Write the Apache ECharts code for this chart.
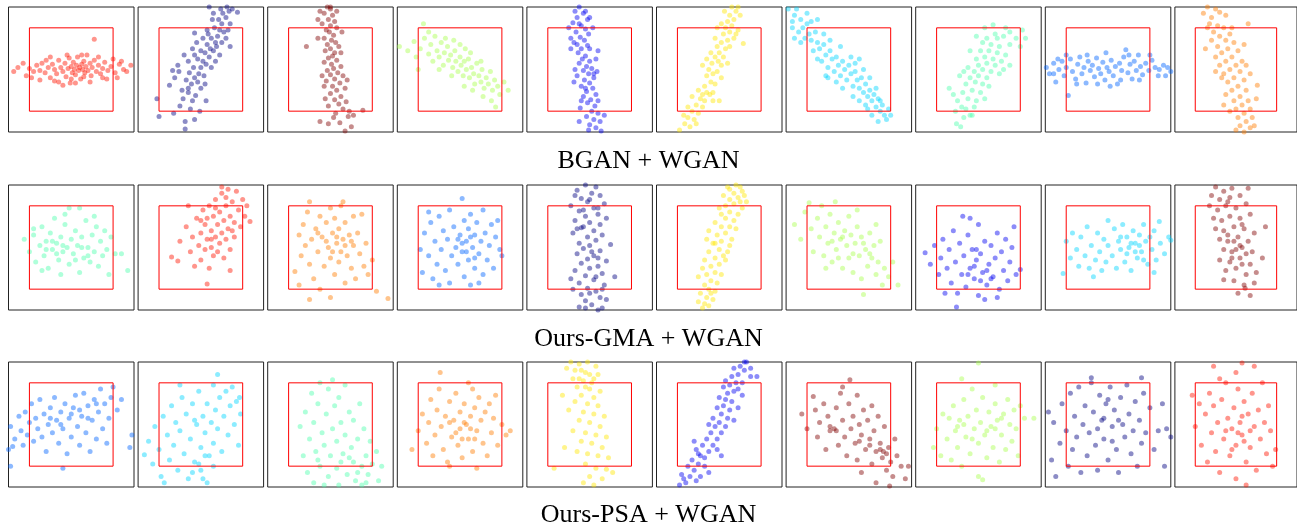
<!DOCTYPE html>
<html>
<head>
<meta charset="utf-8">
<script src="https://cdn.jsdelivr.net/npm/echarts@6/dist/echarts.min.js"></script>
<style>
  html, body { margin: 0; padding: 0; background: #fff; }
  #main { width: 1297px; height: 523px; }
</style>
</head>
<body>
<div id="main"></div>
<script>
// red box is [-40,40], panel frame is [-60,60]
const rowTitles = ['BGAN + WGAN', 'Ours-GMA + WGAN', 'Ours-PSA + WGAN'];
const jet = ['#000080', '#0000f1', '#0063ff', '#00d4ff', '#4dffad', '#a9ff4d', '#ffe600', '#ff7d00', '#ff1400', '#800000'];
const rowColors = [
  [8, 0, 9, 5, 1, 6, 3, 4, 2, 7],
  [4, 8, 7, 2, 0, 6, 5, 1, 3, 9],
  [2, 3, 4, 7, 6, 1, 9, 5, 0, 8]
];
const box = [[-40, -40], [40, -40], [40, 40], [-40, 40], [-40, -40]];

const bganRow = [
  [[-51,2],[-43,-6],[-40,1],[-36,-2],[-33,4],[-30,-1],[-28,6],[-25,-3],[-22,2],[-20,-8],[-18,5],[-16,0],[-14,-4],[-12,9],[-10,2],[-8,-2],[-6,6],[-5,-7],[-3,1],[-2,11],[0,3],[1,-3],[2,7],[3,0],[4,-5],[5,4],[6,12],[7,-1],[8,2],[9,-9],[10,5],[11,0],[12,8],[13,-3],[14,3],[15,14],[16,-1],[18,6],[19,-6],[20,2],[22,9],[24,-2],[26,4],[28,-4],[30,1],[32,7],[35,-1],[38,3],[42,-3],[46,5],[50,0],[53,-2],[57,4],[22,29],[-8,-15],[-1,-13],
   [-30,-10],[-20,12],[-12,-12],[-4,14],[4,-13],[10,14],[18,-12],[26,12],[34,-9],[40,10],[-46,6],[-24,9],[44,-8],[0,-9],[12,-7],[-16,-11],[30,-8],[-38,-8],[48,8],[-55,-2]],
  [[-42,-28],[-40,-45],[-15,-57],[-15,-50],[-20,-35],[-17,-28],[-10,-38],[-8,-30],[-5,-25],[-18,-20],[-12,-18],[-14,-10],[-9,-14],[-6,-8],[-11,-3],[-3,-12],[-2,-4],[-7,2],[0,2],[3,-6],[2,8],[-3,10],[5,5],[8,12],[4,16],[0,18],[9,20],[6,24],[12,18],[14,26],[10,30],[16,32],[7,34],[18,38],[13,40],[20,44],[22,36],[17,48],[24,50],[21,54],[27,56],[25,60],[30,58],[19,58],[32,62],[11,48],[15,22],[-4,26],[-21,-2],[-1,-40],[5,-30],[28,44],[2,30],[6,38],[-8,20],[-27,-1],[-6,35],[28,22],
   [-30,-15],[-25,-8],[-22,4],[-12,8],[-16,14],[-6,14],[10,2],[14,8],[18,14],[20,26],[24,30],[26,38],[12,54],[8,60],[35,55],[-26,-42],[-6,-48],[-12,-22],[0,-18],[4,-14]],
  [[-3,60],[0,58],[-6,54],[2,52],[-2,48],[4,46],[-8,44],[0,42],[6,40],[-4,38],[-1,36],[3,33],[-6,30],[1,28],[5,26],[-3,24],[8,22],[-23,22],[0,20],[-5,18],[4,16],[2,13],[-2,11],[6,9],[-6,7],[1,5],[10,3],[3,1],[-3,-1],[7,-3],[0,-5],[12,-6],[4,-9],[-4,-11],[9,-13],[2,-16],[14,-18],[6,-20],[0,-23],[10,-26],[4,-29],[15,-31],[8,-33],[-2,-35],[12,-38],[31,-39],[5,-42],[17,-45],[-10,-50],[9,-51],[20,-55],[14,-59],[3,-46],[-5,-28],[11,36],
   [-10,56],[6,56],[-12,30],[10,16],[-8,-6],[16,-10],[-6,-16],[18,-40],[-2,-52],[22,-44],[0,60],[-12,48]],
  [[-58,22],[-50,18],[-44,27],[-42,12],[-38,20],[-35,44],[-34,30],[-30,15],[-28,24],[-26,8],[-24,32],[-22,18],[-20,12],[-18,26],[-16,4],[-15,16],[-12,22],[-11,9],[-9,14],[-7,2],[-5,18],[-4,8],[-2,-2],[0,12],[1,4],[3,-6],[4,8],[6,0],[8,10],[9,-8],[11,2],[13,-4],[14,-14],[16,6],[18,-6],[20,-12],[21,0],[23,-18],[25,-8],[27,-14],[29,-2],[31,-20],[33,-10],[36,-16],[38,-24],[42,-12],[46,-20],[34,-36],[-40,0],[12,-20],[-6,28],[5,20],
   [-30,36],[-14,30],[0,24],[10,16],[20,8],[30,-30],[-20,0],[-8,-6],[4,-16],[22,-26]],
  [[-10,60],[-14,56],[-6,54],[-12,50],[-2,48],[-16,45],[-8,42],[-4,39],[-13,36],[-1,34],[-9,31],[-5,28],[-15,26],[-2,23],[-8,20],[8,18],[-11,16],[-4,13],[-7,10],[0,8],[-10,6],[-3,3],[2,1],[-6,-1],[-1,-4],[-12,-6],[4,-8],[-5,-10],[0,-13],[-8,-16],[3,-18],[-3,-21],[6,-24],[-6,-26],[1,-29],[-2,-32],[5,-35],[-9,-37],[2,-40],[8,-42],[-3,-45],[4,-48],[10,-50],[0,-53],[6,-56],[11,-59],[-1,-58],[-15,-12],[7,-2],[-18,30],[3,40],
   [-20,40],[-10,44],[-18,20],[-14,0],[6,10],[-8,-30],[8,-30],[-10,-50],[14,-44],[-4,56],[0,50],[4,-4],[-4,-18],[0,20],[-12,24]],
  [[-38,-58],[-33,-52],[-28,-55],[-30,-46],[-24,-48],[-26,-40],[-20,-42],[-22,-34],[-16,-36],[-18,-28],[-14,-30],[-12,-22],[-20,-20],[-9,-24],[-14,-16],[-8,-12],[-12,-6],[-4,-14],[-10,0],[-6,-4],[-2,-2],[-7,6],[-1,8],[-4,12],[2,4],[-8,16],[0,16],[4,12],[-2,22],[6,20],[2,26],[8,28],[-4,30],[4,34],[10,36],[6,40],[12,42],[8,46],[14,48],[10,52],[16,56],[12,60],[5,56],[18,38],[23,25],[-16,4],[0,-30],[-26,-26],[14,30],
   [-34,-44],[-22,-52],[-6,-22],[-16,-24],[2,-8],[8,6],[-12,10],[10,22],[16,34],[2,44],[20,52],[18,60],[-2,40],[-6,-30],[-30,-36]],
  [[-58,58],[-52,52],[-54,46],[-46,48],[-44,40],[-48,36],[-40,44],[-38,34],[-36,28],[-42,30],[-32,36],[-30,26],[-28,20],[-34,18],[-24,24],[-22,14],[-26,8],[-18,18],[-16,10],[-20,2],[-12,12],[-10,4],[-14,-2],[-6,8],[-4,0],[-8,-6],[0,4],[2,-4],[-2,-10],[6,-2],[8,-10],[4,-16],[12,-8],[10,-18],[14,-22],[16,-14],[18,-26],[20,-20],[22,-30],[24,-24],[26,-36],[28,-28],[30,-40],[32,-34],[36,-48],[34,-44],[-46,26],[-20,-8],[10,10],[-54,40],[18,-38],
   [-50,58],[-40,54],[-36,46],[-30,48],[-52,30],[-24,34],[-30,10],[-18,28],[-8,22],[-22,-6],[-12,-12],[2,12],[6,6],[-6,-18],[14,0],[4,-26],[20,-8],[10,-30],[26,-18],[16,-34],[30,-30],[22,-44],[38,-38],[28,-50],[40,-44]],
  [[-21,-52],[-17,-55],[-14,-46],[-8,-44],[-12,-38],[-4,-36],[-20,-30],[-10,-28],[-2,-30],[-15,-22],[-6,-20],[2,-22],[-28,-18],[-12,-14],[-3,-12],[4,-14],[-8,-8],[0,-6],[8,-8],[-18,-6],[-4,-2],[4,0],[12,-2],[-10,2],[0,4],[8,6],[16,4],[-2,10],[6,12],[14,10],[22,8],[2,18],[10,18],[18,16],[26,14],[4,26],[12,24],[20,22],[30,24],[8,30],[16,34],[24,32],[36,30],[14,43],[26,40],[42,38],[45,30],[-2,32],[30,4],[-22,-40],
   [-16,-36],[-6,-44],[6,-28],[-24,-24],[10,-16],[-14,-2],[20,-4],[-8,18],[24,0],[18,30],[30,36],[40,22],[6,40]],
  [[-59,2],[-56,-4],[-52,6],[-50,-12],[-47,0],[-44,8],[-42,-6],[-40,2],[-38,-25],[-36,10],[-34,-2],[-31,-9],[-29,5],[-27,12],[-25,-4],[-23,2],[-21,-13],[-19,8],[-17,-1],[-15,4],[-13,-7],[-11,11],[-9,1],[-7,-4],[-5,7],[-3,-10],[-1,2],[1,-2],[3,9],[5,-6],[7,3],[9,-14],[11,6],[13,-1],[15,12],[17,19],[19,-3],[21,5],[23,-9],[25,8],[27,-1],[29,14],[31,3],[33,-5],[36,6],[39,-1],[42,9],[45,2],[49,0],[53,4],[57,2],[60,-2],[2,-16],[-20,14],
   [-48,10],[-30,-14],[-10,-14],[12,-10],[30,-10],[48,-6],[-40,14],[20,14],[-2,16],[40,14],[55,-6],[-52,-4]],
  [[-28,60],[-20,58],[-32,54],[-16,55],[-24,50],[-10,52],[12,44],[-26,44],[-18,42],[-12,40],[-22,36],[-6,34],[-16,32],[-24,28],[-10,28],[-2,26],[-18,22],[-8,20],[-14,16],[2,18],[-20,12],[-4,12],[-10,8],[6,8],[-16,4],[0,4],[-6,0],[-12,-4],[4,-2],[-2,-8],[-8,-12],[8,-10],[21,-15],[2,-16],[-4,-20],[10,-20],[-10,-24],[4,-26],[-2,-30],[12,-30],[6,-34],[0,-38],[14,-38],[8,-42],[2,-46],[16,-46],[10,-50],[4,-54],[14,-56],[8,-60],[-12,-34],
   [-28,40],[-30,20],[-4,40],[8,24],[-14,-8],[14,-4],[-6,-40],[20,-28],[18,-54],[0,-58],[-20,-2],[10,4]]
];

const gmaRow = [
  [[-45,8],[-40,-4],[-36,12],[-34,-14],[-30,2],[-28,20],[-26,-8],[-24,6],[-22,-20],[-20,14],[-18,-2],[-16,28],[-14,4],[-12,-12],[-10,10],[-8,-4],[-6,22],[-4,0],[-2,-16],[0,8],[2,-6],[4,16],[6,2],[8,-24],[10,10],[12,-10],[14,26],[16,0],[18,-14],[20,12],[22,-4],[24,20],[26,-18],[28,6],[30,-8],[32,16],[34,-2],[38,10],[42,-6],[48,-6],[54,-22],[-2,38],[8,38],[-10,-26],[-28,-22],[36,-26],[-36,18],[-6,32],[22,30],
   [-18,6],[-8,2],[4,-12],[-14,-6],[16,-8],[10,0],[-24,-2]],
  [[-28,-9],[-22,-13],[-20,6],[-14,20],[-10,-4],[-8,10],[-6,-18],[-4,28],[-2,2],[0,14],[0,-12],[2,36],[4,-2],[4,22],[6,8],[6,-35],[8,40],[8,-20],[10,16],[10,0],[12,30],[12,-8],[14,46],[14,10],[16,22],[16,-4],[18,34],[18,4],[20,14],[20,52],[22,26],[22,-10],[24,40],[24,8],[26,18],[26,56],[28,30],[28,-2],[30,44],[32,10],[32,24],[34,54],[36,36],[38,20],[40,46],[42,30],[44,40],[47,25],[20,58],[-12,40],[28,-22],
   [6,28],[14,38],[30,16],[24,48],[10,8],[0,26]],
  [[-34,-23],[-30,12],[-28,-8],[-26,22],[-24,2],[-22,34],[-20,-16],[-20,44],[-18,8],[-16,-30],[-14,18],[-12,-4],[-10,30],[-10,-40],[-8,10],[-6,-18],[-4,24],[-2,0],[0,38],[0,-10],[2,14],[4,-26],[4,28],[6,4],[8,-14],[8,18],[10,40],[10,-4],[12,8],[14,-34],[14,24],[16,-8],[18,12],[20,-20],[22,30],[22,2],[24,-30],[26,14],[28,-6],[30,32],[32,-18],[34,4],[36,-26],[40,-12],[44,-42],[55,-49],[-20,-50],[0,-48],[12,44],[-30,-36],
   [-4,6],[6,10],[14,2],[-12,14],[20,6],[2,-4]],
  [[-38,-2],[-36,-24],[-34,14],[-30,-8],[-28,24],[-26,-30],[-24,6],[-22,-16],[-20,30],[-18,-2],[-16,16],[-14,-22],[-12,8],[-10,-34],[-10,36],[-8,-8],[-6,20],[-4,0],[-2,-16],[0,12],[2,47],[2,-4],[4,26],[4,-28],[6,6],[8,-12],[8,18],[10,-36],[10,32],[12,0],[14,-20],[14,12],[16,24],[18,-6],[20,6],[22,-26],[22,36],[24,14],[26,-12],[28,2],[30,22],[32,-20],[34,10],[38,-2],[40,-8],[-30,34],[18,-34],[-20,-36],[36,26],
   [6,-4],[10,10],[2,4],[14,-10],[-2,8]],
  [[-4,60],[6,58],[-12,55],[2,52],[10,50],[-8,47],[-2,44],[14,42],[-18,40],[4,38],[-10,35],[8,32],[-4,30],[16,28],[-14,26],[0,24],[10,22],[-8,19],[4,16],[-16,14],[12,12],[-2,10],[6,7],[-10,4],[20,3],[0,2],[-6,-1],[10,-3],[-12,-6],[4,-8],[-2,-11],[16,-13],[-8,-15],[8,-18],[0,-20],[-14,-22],[12,-25],[-4,-27],[24,-28],[4,-31],[-10,-34],[14,-36],[-2,-39],[6,-42],[-8,-45],[10,-48],[-4,-51],[2,-55],[-10,-57],[8,-60],[-18,-30],[16,-50],
   [-14,50],[0,46],[8,38],[-6,36],[-12,18],[2,-4],[8,-10],[-16,-40],[0,-44],[12,-58],[6,-28],[-6,20],[12,-40],[-4,-58]],
  [[-16,-58],[-10,-56],[-20,-52],[-12,-48],[-6,-50],[-18,-44],[-10,-40],[-4,-42],[-14,-36],[-8,-32],[-2,-34],[-20,-28],[-12,-26],[-4,-24],[2,-26],[-8,-18],[0,-16],[-14,-12],[-4,-10],[4,-8],[-10,-4],[0,-2],[8,-4],[-6,4],[2,6],[10,2],[-2,12],[6,14],[-10,16],[2,20],[10,20],[-4,24],[6,28],[14,26],[2,32],[10,34],[18,32],[6,40],[14,42],[22,38],[10,46],[18,48],[4,50],[14,52],[24,50],[10,56],[20,58],[16,60],[26,44],[-12,8],
   [-14,-54],[-8,-44],[-16,-20],[6,-12],[12,8],[-4,4],[16,18],[0,38],[20,44],[8,58],[22,54],[12,62]],
  [[-52,22],[-46,8],[-42,34],[-38,43],[-36,18],[-34,-4],[-30,28],[-28,10],[-26,40],[-24,-8],[-22,20],[-20,4],[-18,32],[-16,-14],[-14,14],[-13,44],[-12,-2],[-10,24],[-8,8],[-6,-20],[-4,16],[-2,2],[0,-10],[0,30],[2,12],[4,-24],[6,4],[8,20],[10,-8],[12,-30],[12,10],[14,-45],[16,-2],[18,-18],[20,14],[22,-10],[24,2],[26,-26],[28,-14],[30,6],[32,-36],[34,-20],[38,-28],[42,-14],[47,-36],[8,36],[-22,-20],[26,22],
   [-16,6],[-6,10],[4,-6],[14,4],[-10,-10],[20,-6]],
  [[-51,-5],[-46,-16],[-42,2],[-38,-26],[-36,-10],[-34,8],[-30,-20],[-28,-2],[-26,-34],[-24,16],[-22,-14],[-21,-57],[-20,-44],[-18,4],[-16,-26],[-15,30],[-14,-8],[-12,-38],[-10,12],[-8,-20],[-6,-2],[-4,-30],[-2,-12],[0,22],[0,-46],[2,-6],[4,-24],[6,6],[8,-36],[10,-16],[12,2],[14,-28],[16,-10],[18,14],[20,-40],[22,-4],[24,-22],[26,8],[28,-32],[30,-14],[32,0],[34,20],[36,-26],[40,-21],[-8,28],[6,-50],[-32,-44],[18,-48],
   [-4,-18],[2,-32],[-10,-26],[8,-22],[-2,-2],[12,-30]],
  [[-43,-25],[-40,6],[-36,-10],[-34,14],[-30,-2],[-28,-18],[-26,10],[-22,-8],[-20,20],[-18,-20],[-16,2],[-12,-12],[-10,14],[-8,-4],[-6,-22],[-4,8],[-2,-14],[0,26],[0,2],[4,-8],[6,18],[8,-20],[10,6],[12,-2],[14,22],[16,-14],[18,10],[20,0],[22,-22],[24,16],[26,4],[28,-10],[30,12],[32,-4],[34,22],[36,6],[38,-16],[40,10],[42,-2],[44,16],[46,-12],[49,25],[50,4],[54,-6],[58,10],[60,7],[44,-24],[-14,-28],
   [22,4],[26,-4],[30,2],[18,-6],[12,10],[34,-12]],
  [[-20,58],[-12,54],[-4,57],[12,57],[-24,50],[-16,46],[-6,48],[4,50],[-26,40],[-18,36],[-10,40],[0,38],[10,42],[-22,28],[-14,26],[-6,30],[4,28],[14,32],[29,20],[-20,18],[-12,16],[-2,20],[8,18],[18,14],[-16,8],[-8,6],[2,10],[12,6],[-12,-2],[-4,-4],[6,0],[16,-4],[26,-10],[-16,-12],[-6,-14],[4,-10],[14,-16],[-10,-22],[0,-20],[10,-26],[20,-24],[-12,-31],[-2,-32],[8,-36],[18,-34],[9,-39],[2,-44],[14,-46],[-4,-10],[6,22],[-8,44],
   [-2,6],[4,2],[-8,12],[10,-6],[0,-2],[6,-16]]
];

const psaRow = [
  [[-60,-24],[-58,-2],[-56,-21],[-54,-14],[-50,8],[-48,-6],[-46,-20],[-44,12],[-42,-10],[-40,2],[-38,20],[-36,-16],[-34,6],[-32,-4],[-30,24],[-28,-12],[-26,10],[-24,-26],[-22,0],[-20,16],[-18,-8],[-16,26],[-14,4],[-12,-18],[-10,12],[-8,-4],[-6,20],[-4,-28],[-2,6],[0,-12],[2,16],[4,28],[6,-2],[8,-20],[10,8],[12,30],[14,-8],[16,18],[18,-26],[20,4],[22,24],[24,-14],[26,12],[28,34],[30,-4],[32,20],[34,-18],[36,6],[38,26],[40,36],[44,14],[48,24],[56,-22],[58,-10],[-58,-40],[-8,-42],
   [-20,6],[-10,0],[0,10],[8,14],[16,6],[24,20]],
  [[-54,-29],[-50,-16],[-46,-38],[-44,-2],[-40,-24],[-38,-50],[-35,-56],[-36,8],[-32,-10],[-30,-34],[-28,18],[-26,-20],[-24,2],[-22,-44],[-20,-6],[-18,26],[-16,-28],[-14,10],[-12,-52],[-10,-14],[-8,20],[-6,-36],[-4,0],[-2,32],[0,-22],[0,-44],[2,8],[4,-8],[6,20],[6,-56],[8,-30],[10,2],[12,38],[12,-18],[14,14],[16,-4],[16,48],[18,26],[20,-26],[22,8],[24,32],[26,-10],[28,18],[30,36],[32,0],[34,22],[36,-20],[37,26],[38,10],[12,-40],[-20,38],
   [-2,-38],[4,-30],[-8,-46],[2,-52],[-6,4]],
  [[-29,-2],[-26,-30],[-24,12],[-22,-46],[-20,-14],[-18,30],[-16,-56],[-16,2],[-14,-26],[-12,20],[-10,-40],[-10,40],[-8,-8],[-6,-20],[-4,10],[-2,-50],[-2,34],[0,-30],[2,-4],[2,43],[4,18],[6,-42],[6,-16],[8,26],[8,-58],[10,2],[12,-28],[14,-10],[14,38],[16,-48],[18,12],[20,-22],[22,-36],[22,4],[24,-54],[26,-14],[28,20],[30,-40],[32,-4],[34,-30],[36,-48],[38,-16],[40,-38],[44,-26],[46,-54],[49,-40],[-6,-58],[30,-58],
   [18,-32],[26,-46],[10,-36],[-12,-34],[34,-56]],
  [[-46,-24],[-40,-6],[-36,10],[-32,-18],[-30,2],[-28,24],[-26,-30],[-24,-10],[-22,14],[-20,34],[-19,50],[-18,-2],[-16,-24],[-14,8],[-12,-36],[-10,22],[-8,-12],[-6,4],[-4,30],[-2,-20],[0,12],[0,-4],[2,-32],[4,20],[6,0],[8,-14],[10,8],[12,34],[12,-26],[14,16],[16,-6],[16,-42],[18,26],[20,4],[22,-18],[24,12],[26,-30],[28,20],[30,-8],[32,6],[34,28],[36,-20],[40,0],[44,-10],[48,-6],[-10,-40],[8,40],
   [-4,-8],[4,2],[10,-4],[-10,2],[2,-14],[14,-14]],
  [[-18,60],[-10,58],[-2,60],[6,56],[-22,54],[-14,52],[-4,50],[8,48],[-16,44],[-6,42],[2,40],[-12,36],[0,34],[10,32],[-26,28],[-8,28],[4,26],[-14,22],[-2,20],[8,18],[-20,14],[-6,12],[4,10],[14,8],[-10,4],[0,2],[10,-2],[-16,-6],[-4,-8],[6,-10],[16,-12],[-8,-16],[2,-18],[12,-22],[-12,-26],[-2,-28],[8,-30],[18,-32],[-34,-42],[-4,-38],[6,-42],[16,-43],[0,-50],[12,-52],[-6,-56],[4,-58],[22,-46],[-24,-22],
   [-8,52],[0,48],[-10,44],[4,44],[-4,36]],
  [[-38,-58],[-32,-56],[-36,-48],[-28,-50],[-30,-40],[-24,-44],[-26,-34],[-20,-38],[-18,-30],[-22,-24],[-14,-32],[-16,-20],[-10,-26],[-12,-14],[-6,-20],[-8,-8],[-2,-14],[-4,-2],[2,-8],[-6,6],[0,2],[6,-2],[2,10],[8,6],[-2,16],[4,18],[10,14],[6,24],[12,22],[0,26],[8,30],[14,32],[10,38],[16,40],[4,36],[12,46],[18,48],[14,54],[20,56],[24,52],[26,60],[18,34],[-18,-50],[22,28],[-24,-16],[-10,-46],[2,-30],[36,46],[30,54],
   [-34,-52],[-22,-54],[-14,-40],[-2,-24],[-10,0],[14,4],[18,16],[6,42],[22,40],[30,46],[24,60],[-20,-28]],
  [[-45,10],[-40,-4],[-34,27],[-32,14],[-30,-12],[-28,2],[-24,20],[-22,-24],[-20,8],[-18,-6],[-14,-4],[-12,16],[-10,-20],[-8,30],[-6,4],[-4,-12],[-2,-30],[0,20],[1,43],[2,-4],[4,8],[6,-18],[8,28],[8,-34],[10,0],[12,-10],[14,14],[16,-24],[18,4],[20,-14],[22,-38],[22,18],[24,-6],[26,-26],[28,8],[30,-18],[32,-32],[33,-26],[34,-2],[36,-44],[38,-22],[40,-36],[42,-50],[44,-14],[46,-30],[50,-40],[54,-52],[57,-40],[39,-59],[26,-56],[-6,36],[12,-46],
   [-18,-2],[-12,-6],[36,-28],[30,-24],[20,-20],[10,-16]],
  [[-43,-22],[-40,-4],[-36,-30],[-34,10],[-30,-14],[-28,6],[-26,-34],[-24,18],[-22,-6],[-20,-22],[-18,4],[-16,-40],[-14,24],[-12,-12],[-10,8],[-8,-28],[-6,34],[-4,-4],[-2,14],[0,-18],[0,-50],[2,2],[4,26],[6,-10],[8,-32],[10,12],[12,-2],[14,-22],[16,20],[18,4],[20,-36],[22,-10],[24,10],[26,-24],[28,24],[30,0],[32,-16],[34,14],[36,-4],[38,-30],[40,18],[44,6],[53,6],[-16,44],[0,59],[4,-53],[16,38],
   [-20,-2],[-14,0],[8,-6],[16,-4],[22,6],[-6,-14]],
  [[-57,12],[-54,-34],[-52,2],[-50,-50],[-46,-18],[-44,20],[-40,-6],[-38,-40],[-36,30],[-34,-24],[-32,8],[-30,-12],[-28,36],[-26,-46],[-24,0],[-22,18],[-20,-30],[-18,-8],[-16,40],[-14,12],[-12,-20],[-10,-44],[-8,28],[-6,4],[-4,-14],[-2,20],[0,-34],[2,36],[4,-2],[6,14],[8,-24],[10,-46],[12,26],[14,0],[16,-12],[18,38],[20,10],[22,-28],[24,-6],[26,22],[28,-40],[30,4],[32,-18],[34,30],[36,-8],[40,16],[44,-24],[48,-6],[52,20],[56,-4],[60,-12],[54,-40],[-16,45],[32,45],
   [0,24],[-4,6],[10,4],[4,-16],[-10,-4]],
  [[-43,28],[-40,-2],[-36,20],[-34,-20],[-30,10],[-28,-36],[-26,30],[-24,-8],[-22,18],[-20,-26],[-18,2],[-16,-46],[-14,24],[-12,-14],[-10,40],[-8,6],[-6,-30],[-4,-4],[-2,16],[0,-52],[0,-20],[2,34],[4,2],[6,-10],[8,22],[10,-36],[10,-58],[12,10],[14,-22],[16,30],[18,-2],[20,-44],[22,14],[24,-14],[26,40],[28,2],[30,-28],[32,18],[34,-6],[36,-40],[39,-24],[-16,44],[6,59],[18,56],[-22,56],[0,50],
   [2,-8],[8,-16],[-4,-24],[14,-6],[6,8],[-10,-6]]
];

const rows = [bganRow, gmaRow, psaRow];

var myChart = echarts.init(document.getElementById('main'));

var grids = [], xAxes = [], yAxes = [], series = [];
var rowTops = [7, 185, 362];
var titleTops = [143, 321, 497];

for (var r = 0; r < 3; r++) {
  for (var c = 0; c < 10; c++) {
    var k = r * 10 + c;
    grids.push({
      left: 8.5 + 129.6 * c,
      top: rowTops[r],
      width: 125.5,
      height: 125,
      show: true,
      borderColor: '#222',
      borderWidth: 1,
      backgroundColor: '#fff'
    });
    xAxes.push({ type: 'value', gridIndex: k, min: -60, max: 60, show: false });
    yAxes.push({ type: 'value', gridIndex: k, min: -60, max: 60, show: false });
    series.push({
      type: 'scatter',
      xAxisIndex: k,
      yAxisIndex: k,
      data: rows[r][c],
      symbolSize: 5,
      clip: true,
      silent: true,
      itemStyle: { color: jet[rowColors[r][c]], opacity: 0.45 }
    });
    series.push({
      type: 'line',
      xAxisIndex: k,
      yAxisIndex: k,
      data: box,
      symbol: 'none',
      silent: true,
      z: 3,
      lineStyle: { color: '#ff0000', width: 1 }
    });
  }
}

var option = {
  animation: false,
  backgroundColor: '#fff',
  title: rowTitles.map(function (t, i) {
    return {
      text: t,
      left: 'center',
      top: titleTops[i],
      textStyle: { fontFamily: 'Liberation Serif', fontSize: 26, fontWeight: 'normal', color: '#000' }
    };
  }),
  grid: grids,
  xAxis: xAxes,
  yAxis: yAxes,
  series: series
};

myChart.setOption(option);
</script>
</body>
</html>
